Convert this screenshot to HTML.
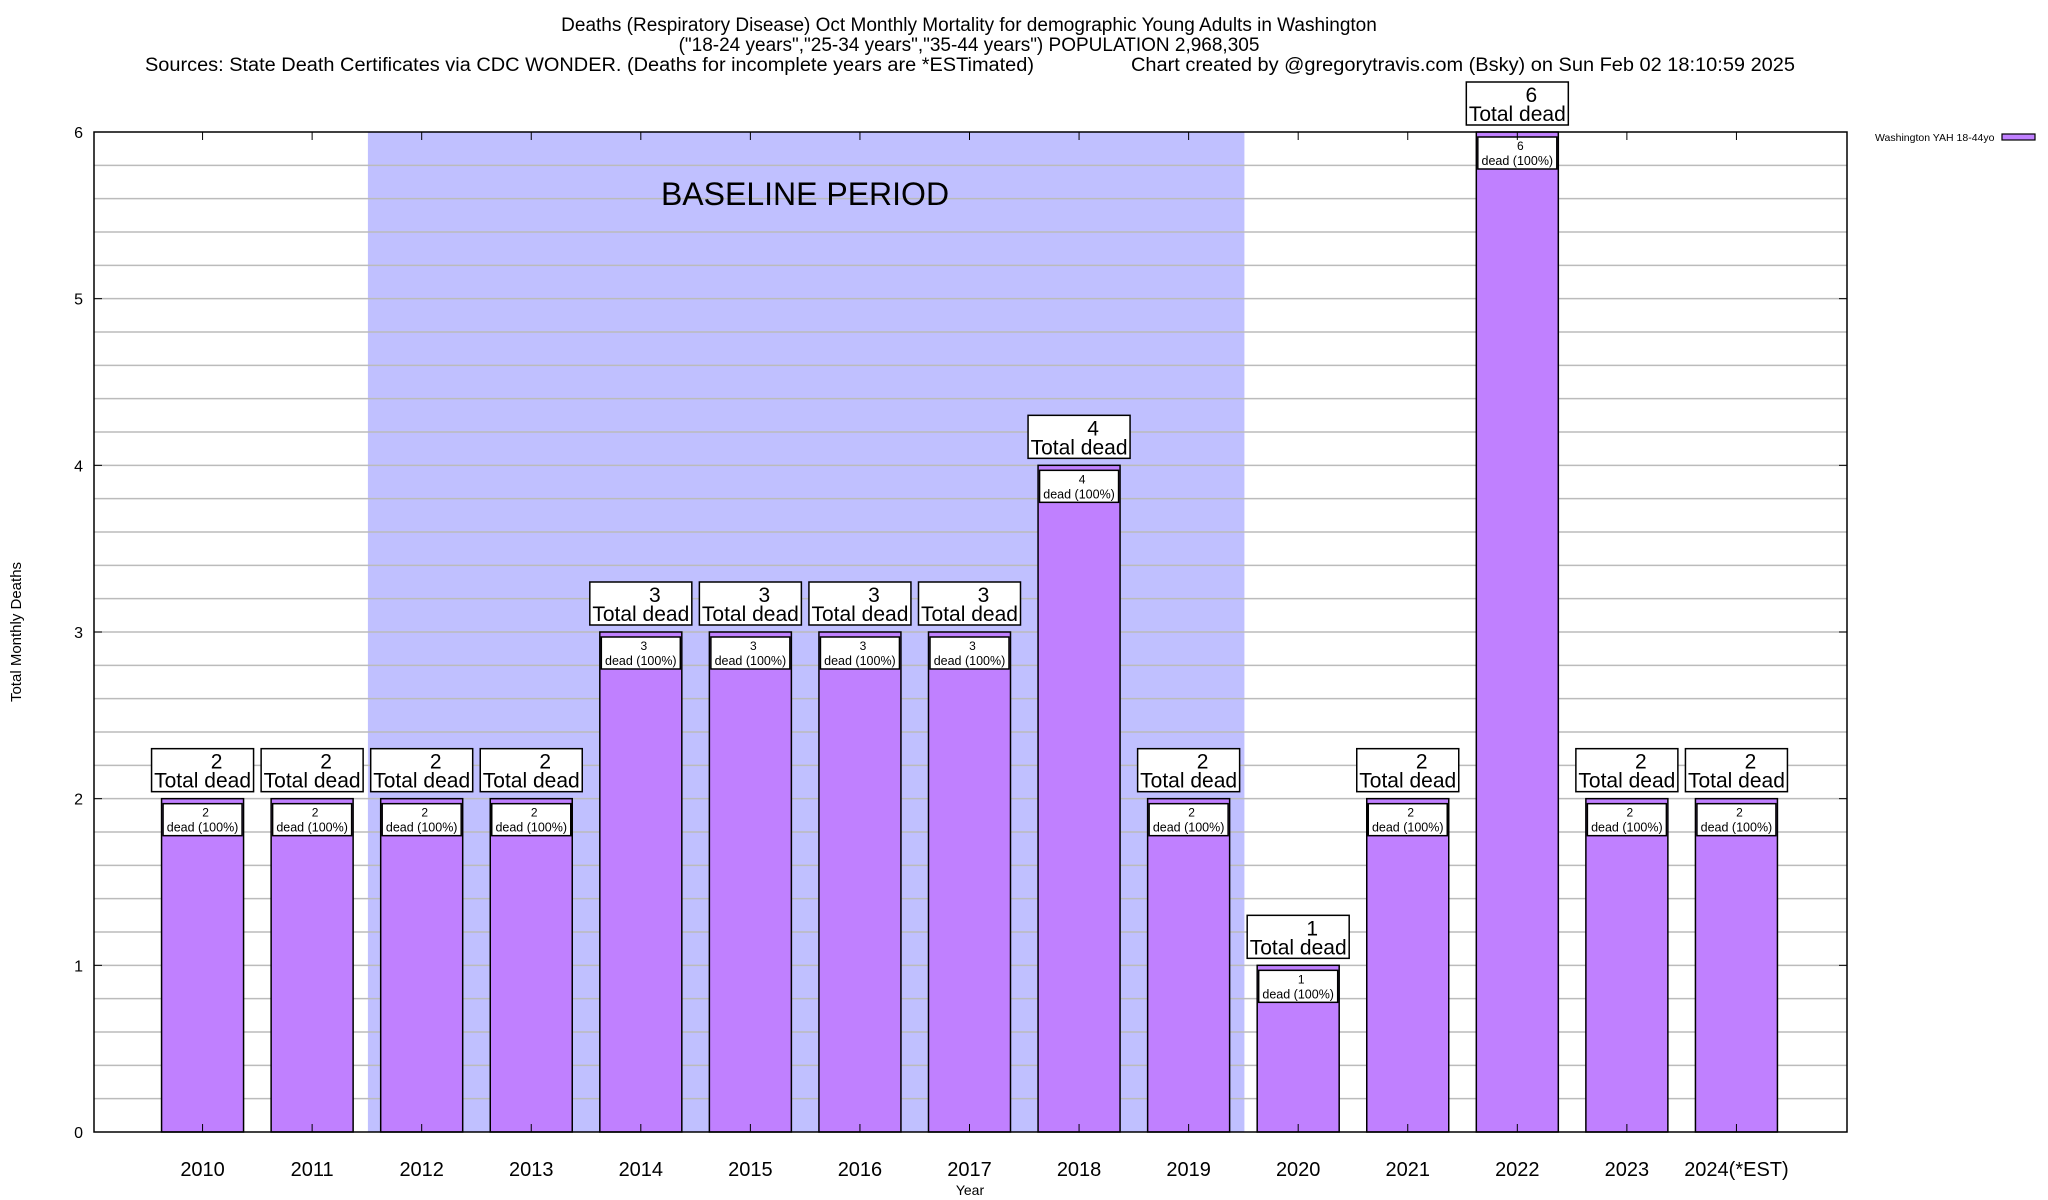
<!DOCTYPE html>
<html><head><meta charset="utf-8"><style>
html,body{margin:0;padding:0;background:#fff;}
svg{display:block;font-family:"Liberation Sans",Arial,sans-serif;}
</style></head><body>
<svg id="chart" width="2048" height="1200" viewBox="0 0 2048 1200" xmlns="http://www.w3.org/2000/svg">
<g font-size="19" fill="#000">
<text x="969" y="31" text-anchor="middle">Deaths (Respiratory Disease) Oct Monthly Mortality for demographic Young Adults in Washington</text>
<text x="969" y="51" text-anchor="middle">("18-24 years","25-34 years","35-44 years") POPULATION 2,968,305</text>
<text x="145" y="71" textLength="889" lengthAdjust="spacingAndGlyphs">Sources: State Death Certificates via CDC WONDER. (Deaths for incomplete years are *ESTimated)</text>
<text x="1131" y="71" textLength="664" lengthAdjust="spacingAndGlyphs">Chart created by @gregorytravis.com (Bsky) on Sun Feb 02 18:10:59 2025</text>
</g>
<g id="plot"></g>
</svg>
<script>
const categories=["2010","2011","2012","2013","2014","2015","2016","2017","2018","2019","2020","2021","2022","2023","2024(*EST)"];
const deaths=[2,2,2,2,3,3,3,3,4,2,1,2,6,2,2];
const yTicks=[0,1,2,3,4,5,6];
const baselineStart=2; const baselineEnd=9;
const NS="http://www.w3.org/2000/svg";
const L=94,R=1847,T=132,B=1132,yMax=6;
const slot=(R-L)/(categories.length+1);
const xC=i=>L-1+(i+1)*slot;
const yS=v=>B-(v/yMax)*(B-T);
const g=document.getElementById('plot');
function el(tag,attrs,parent){const e=document.createElementNS(NS,tag);for(const k in attrs)e.setAttribute(k,attrs[k]);(parent||g).appendChild(e);return e;}
const sh=el('rect',{x:xC(baselineStart)-slot/2+1,y:T,width:(baselineEnd-baselineStart+1)*slot,height:B-T,fill:'#c0c0ff'});


for(let k=1;k<yMax*5;k++){const v=k/5;const ln=el('line',{x1:L,x2:R,y1:yS(v),y2:yS(v),stroke:'#bbb','stroke-width':1.5});

}
const bt=el('text',{x:805,y:205,'font-size':32,'text-anchor':'middle'});
bt.textContent='BASELINE PERIOD';


yTicks.forEach(v=>{const t=el('text',{x:83,y:yS(v)+6,'font-size':16,'text-anchor':'end'});t.textContent=v;


el('line',{x1:L,x2:L+8,y1:yS(v),y2:yS(v),stroke:'#000'});el('line',{x1:R,x2:R-8,y1:yS(v),y2:yS(v),stroke:'#000'});});
const bw=82;
categories.forEach((c,i)=>{
 const cx=xC(i),v=deaths[i],yt=yS(v);
 const bar=el('rect',{x:cx-bw/2,y:yt,width:bw,height:B-yt,fill:'#c080ff',stroke:'#000','stroke-width':1.5});
 
 
 const ib=el('rect',{x:cx-bw/2+1.5,y:yt+5,width:bw-3,height:32,fill:'#fff',stroke:'#000','stroke-width':1.5});
 
 
 const t1=el('text',{x:cx+3,y:yt+18,'font-size':12,'text-anchor':'middle'});t1.textContent=v;
 
 
 const t2=el('text',{x:cx,y:yt+33,'font-size':12.5,'text-anchor':'middle'});t2.textContent='dead (100%)';
 
 
 const ob=el('rect',{x:cx-51,y:yt-50,width:102,height:43,fill:'#fff',stroke:'#000','stroke-width':1.5});
 
 
 const o1=el('text',{x:cx+14,y:yt-30,'font-size':21,'text-anchor':'middle'});o1.textContent=v;
 
 
 const o2=el('text',{x:cx,y:yt-11,'font-size':21,'text-anchor':'middle'});o2.textContent='Total dead';
 
 
 const xl=el('text',{x:cx,y:1176,'font-size':20,'text-anchor':'middle'});xl.textContent=c;
 
 
 el('line',{x1:cx,x2:cx,y1:T,y2:T+8,stroke:'#000'});el('line',{x1:cx,x2:cx,y1:B,y2:B-8,stroke:'#000'});
});
const fr=el('rect',{x:L,y:T,width:R-L,height:B-T,fill:'none',stroke:'#000','stroke-width':1.5});


const yt=el('text',{x:0,y:0,'font-size':15,'text-anchor':'middle',transform:'translate(21,632) rotate(-90)'});yt.textContent='Total Monthly Deaths';


const xt=el('text',{x:970,y:1195,'font-size':14,'text-anchor':'middle'});xt.textContent='Year';


const lg=el('text',{x:1875,y:141,'font-size':10.5});lg.textContent='Washington YAH 18-44yo';


const sw=el('rect',{x:2002,y:134,width:33,height:6,fill:'#c080ff',stroke:'#000','stroke-width':1.2});


</script>
</body></html>
